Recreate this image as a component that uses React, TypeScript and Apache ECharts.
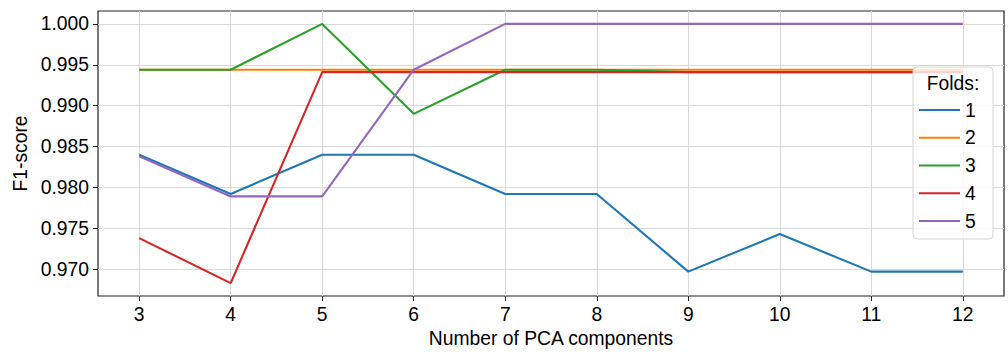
import React, { useEffect, useRef } from "react";
import * as echarts from "echarts";

const components = [3, 4, 5, 6, 7, 8, 9, 10, 11, 12];
const yTicks = [0.97, 0.975, 0.98, 0.985, 0.99, 0.995, 1.0];
const foldNames = ["1", "2", "3", "4", "5"];
const fold1 = [0.984, 0.9792, 0.984, 0.984, 0.9792, 0.9792, 0.9697, 0.9743, 0.9697, 0.9697];
const fold2 = [0.9944, 0.9944, 0.9944, 0.9944, 0.9944, 0.9944, 0.9944, 0.9944, 0.9944, 0.9944];
const fold3 = [0.9944, 0.9944, 1.0, 0.989, 0.9944, 0.9944, 0.9941, 0.9941, 0.9941, 0.9941];
const fold4 = [0.9738, 0.9683, 0.9941, 0.9941, 0.9941, 0.9941, 0.9941, 0.9941, 0.9941, 0.9941];
const fold5 = [0.9838, 0.9789, 0.9789, 0.9944, 1.0, 1.0, 1.0, 1.0, 1.0, 1.0];
const colors = ["#1f77b4", "#ff7f0e", "#2ca02c", "#d62728", "#9467bd"];

const FONT = "Liberation Sans, Arial, sans-serif";
const FS = 19.3;

export default function App() {
  const ref = useRef<HTMLDivElement>(null);
  useEffect(() => {
    if (!ref.current) return;
    const chart = echarts.init(ref.current, undefined, { renderer: "svg" });
    const folds = [fold1, fold2, fold3, fold4, fold5];
    const series = folds.map((vals, i) => ({
      name: foldNames[i],
      type: "line",
      data: components.map((c, j) => [c, vals[j]]),
      showSymbol: false,
      symbol: "none",
      lineStyle: { color: colors[i], width: 2.1 },
      itemStyle: { color: colors[i] },
      z: 2 + i,
    }));
    chart.setOption({
      animation: false,
      backgroundColor: "#fff",
      textStyle: { fontFamily: FONT },
      grid: {
        left: 98,
        right: 4,
        top: 11,
        bottom: 58,
        show: true,
        borderColor: "#222",
        borderWidth: 1.2,
        backgroundColor: "transparent",
      },
      xAxis: {
        type: "value",
        min: 2.55,
        max: 12.45,
        name: "Number of PCA components",
        nameLocation: "middle",
        nameGap: 32,
        nameTextStyle: { fontSize: FS, color: "#000", fontFamily: FONT },
        axisLine: { show: false },
        axisTick: {
          show: true,
          length: 5,
          inside: false,
          customValues: components,
          lineStyle: { color: "#222" },
        },
        axisLabel: {
          customValues: components,
          fontSize: FS,
          color: "#000",
          margin: 9,
          fontFamily: FONT,
        },
        splitLine: { show: true, lineStyle: { color: "#d9d9d9", width: 1 } },
      },
      yAxis: {
        type: "value",
        min: 0.96672,
        max: 1.00158,
        name: "F1-score",
        nameLocation: "middle",
        nameGap: 64,
        nameRotate: 90,
        nameTextStyle: { fontSize: FS, color: "#000", fontFamily: FONT },
        axisLine: { show: false },
        axisTick: {
          show: true,
          length: 5,
          customValues: yTicks,
          lineStyle: { color: "#222" },
        },
        axisLabel: {
          customValues: yTicks,
          fontSize: FS,
          color: "#000",
          margin: 9,
          fontFamily: FONT,
          formatter: (v: number) => v.toFixed(3),
        },
        splitLine: { show: true, lineStyle: { color: "#d9d9d9", width: 1 } },
      },
      legend: {
        orient: "vertical",
        left: 919,
        top: 100,
        padding: 0,
        z: 12,
        itemWidth: 41,
        itemHeight: 14,
        itemGap: 7.75,
        icon: "path://M0,6 L41,6 L41,8.1 L0,8.1 Z",
        data: foldNames,
        textStyle: {
          fontSize: FS,
          lineHeight: 20,
          color: "#000",
          fontFamily: FONT,
          width: 20,
          align: "right",
        },
      },
      graphic: [
        {
          type: "rect",
          z: 10,
          shape: { x: 913, y: 67, width: 80, height: 172, r: 4 },
          style: { fill: "rgba(255,255,255,0.8)", stroke: "#d5d5d5", lineWidth: 1 },
        },
        {
          type: "text",
          z: 11,
          x: 953,
          y: 83,
          style: {
            text: "Folds:",
            fontSize: FS,
            fontFamily: FONT,
            fill: "#000",
            align: "center",
            verticalAlign: "middle",
          },
        },
      ],
      series,
    });
    return () => chart.dispose();
  }, []);
  return <div ref={ref} style={{ width: 1008, height: 354, position: "absolute", left: 0, top: 0 }} />;
}
